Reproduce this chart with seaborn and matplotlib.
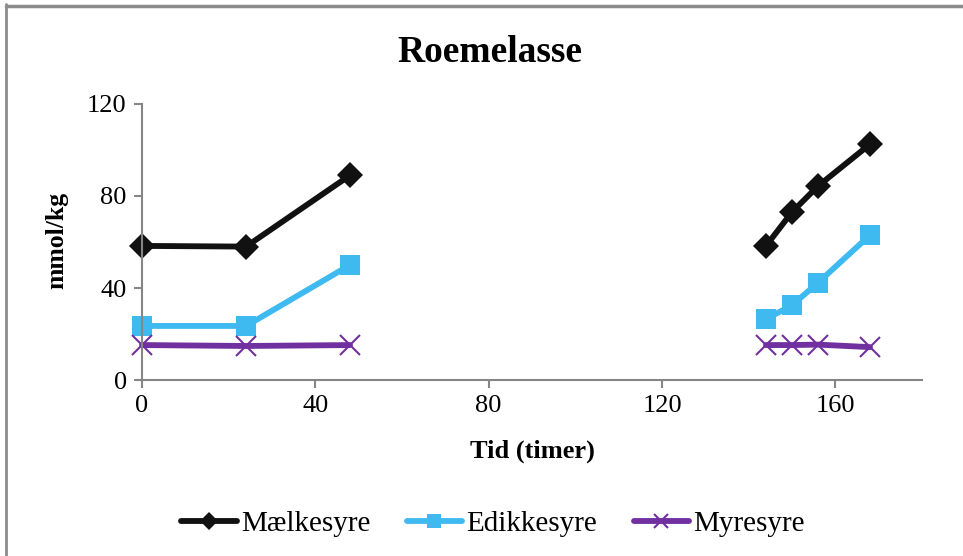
import numpy as np
import pandas as pd
import seaborn as sns
import matplotlib
matplotlib.use("Agg")
import matplotlib.pyplot as plt
from matplotlib.lines import Line2D

# Measurements (hours, mmol/kg); two sampling periods separated by a gap
series_names = ["Mælkesyre", "Edikkesyre", "Myresyre"]
hours_a = [0, 24, 48]
hours_b = [144, 150, 156, 168]
maelkesyre_a = [58.3, 58.0, 89.0]
maelkesyre_b = [58.3, 73.0, 84.3, 102.5]
edikkesyre_a = [23.5, 23.5, 50.0]
edikkesyre_b = [26.5, 32.5, 42.3, 63.0]
myresyre_a = [15.2, 14.8, 15.2]
myresyre_b = [15.2, 15.2, 15.4, 14.3]
x_ticks = [0, 40, 80, 120, 160]
y_ticks = [0, 40, 80, 120]

rows = []
for name, a, b in zip(series_names,
                      [maelkesyre_a, edikkesyre_a, myresyre_a],
                      [maelkesyre_b, edikkesyre_b, myresyre_b]):
    for h, v in zip(hours_a, a):
        rows.append((name, "a", h, v))
    for h, v in zip(hours_b, b):
        rows.append((name, "b", h, v))
df = pd.DataFrame(rows, columns=["syre", "periode", "tid", "mmol"])

sns.set_theme(style="white")
plt.rcParams["font.family"] = ["Liberation Serif", "DejaVu Serif"]
plt.rcParams["text.color"] = "black"

colors = {"Mælkesyre": "#111111", "Edikkesyre": "#3fbaf0", "Myresyre": "#7030a0"}
markers = {"Mælkesyre": "D", "Edikkesyre": "s", "Myresyre": "x"}
msizes = {"Mælkesyre": 13, "Edikkesyre": 15, "Myresyre": 14}

fig = plt.figure(figsize=(9.63, 5.56), dpi=100)
ax = fig.add_axes([0.1475, 0.3165, 0.8099, 0.4965])

for name in series_names:
    for per in ["a", "b"]:
        sub = df[(df.syre == name) & (df.periode == per)]
        kw = dict(markeredgewidth=1.5, markeredgecolor=colors[name]) if name == "Myresyre" else dict(markeredgewidth=0)
        sns.lineplot(data=sub, x="tid", y="mmol", ax=ax, color=colors[name],
                     linewidth=4.2, marker=markers[name], markersize=msizes[name],
                     estimator=None, sort=True, legend=False, clip_on=False, **kw)

ax.set_xlim(0, 180)
ax.set_ylim(0, 120)
ax.set_xticks(x_ticks)
ax.set_yticks(y_ticks)
ax.tick_params(axis="both", which="major", bottom=True, left=True, labelsize=19,
               labelcolor="black", color="#868686", length=6, width=1.5,
               direction="out", pad=5)
for side in ["top", "right"]:
    ax.spines[side].set_visible(False)
for side in ["left", "bottom"]:
    ax.spines[side].set_color("#868686")
    ax.spines[side].set_linewidth(1.5)

ax.set_xlabel("Tid (timer)", fontsize=19, fontweight="bold", labelpad=16, color="black")
ax.set_ylabel("")
fig.text(0.059, 0.568, "mmol/kg", rotation=90, ha="center", va="center",
         fontsize=18.5, fontweight="bold", color="black")
fig.text(0.509, 0.905, "Roemelasse", ha="center", va="center",
         fontsize=27, fontweight="bold", color="black")

handles = [Line2D([], [], color=colors[n], linewidth=4.2, marker=markers[n],
                  markersize=msizes[n] * 0.7,
                  markeredgewidth=1.5 if n == "Myresyre" else 0,
                  markeredgecolor=colors[n]) for n in series_names]
fig.legend(handles, series_names, loc="center", bbox_to_anchor=(0.512, 0.058),
           ncol=3, frameon=False, fontsize=21, handlelength=1.9,
           handletextpad=0.15, columnspacing=1.25, labelcolor="black")

# Outer frame lines
fig.add_artist(Line2D([0.0067, 0.0067], [0, 0.992], transform=fig.transFigure,
                      color="#8c8c8c", linewidth=2))
fig.add_artist(Line2D([0.0067, 1.0], [0.989, 0.989], transform=fig.transFigure,
                      color="#8c8c8c", linewidth=2.5))

fig.savefig("out.png", dpi=100)
